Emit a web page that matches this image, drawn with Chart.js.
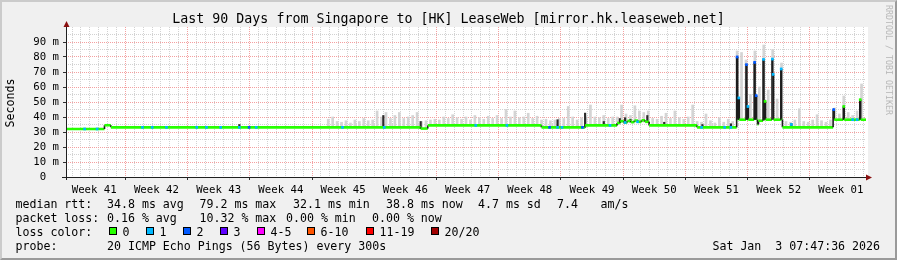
<!DOCTYPE html>
<html><head><meta charset="utf-8">
<script src="https://cdn.jsdelivr.net/npm/chart.js@4.4.1/dist/chart.umd.min.js"></script>
<style>
html,body{margin:0;padding:0;}
body{width:897px;height:260px;position:relative;overflow:hidden;background:#f0f0f0;font-family:"DejaVu Sans Mono",monospace;color:#000;}
#frame{position:absolute;left:0;top:0;width:897px;height:260px;box-sizing:border-box;border-top:2px solid #cbcbcb;border-left:2px solid #cbcbcb;border-right:2px solid #9a9a9a;border-bottom:2px solid #9a9a9a;}
canvas{position:absolute;left:0;top:0;}
.t{position:absolute;white-space:pre;font-size:11.6px;line-height:14px;}
#title{position:absolute;left:0;width:897px;text-align:center;top:11px;font-size:13.3px;line-height:16px;white-space:pre;}
#ylab{position:absolute;left:-20px;top:95.5px;width:60px;height:14px;line-height:14px;text-align:center;font-size:11.6px;transform:rotate(-90deg);white-space:pre;}
#wm{position:absolute;left:834px;top:55px;width:110px;height:10px;line-height:10px;text-align:center;font-size:8.3px;color:#b8b8b8;transform:rotate(90deg);white-space:pre;}
.box{position:absolute;width:6px;height:6px;border:1px solid #000;top:227px;}
</style>
</head><body>
<div id="frame"></div>
<canvas id="c" width="897" height="260"></canvas>
<div id="title">Last 90 Days from Singapore to [HK] LeaseWeb [mirror.hk.leaseweb.net]</div>
<div id="ylab">Seconds</div>
<div id="wm">RRDTOOL / TOBI OETIKER</div>
<div class="t" style="left:15.5px;top:197px">median rtt:</div>
<div class="t" style="left:107px;top:197px">34.8 ms avg</div>
<div class="t" style="left:199.5px;top:197px">79.2 ms max</div>
<div class="t" style="left:293px;top:197px">32.1 ms min</div>
<div class="t" style="left:386px;top:197px">38.8 ms now</div>
<div class="t" style="left:478px;top:197px">4.7 ms sd</div>
<div class="t" style="left:557px;top:197px">7.4</div>
<div class="t" style="left:600.5px;top:197px">am/s</div>
<div class="t" style="left:15.5px;top:211px">packet loss:</div>
<div class="t" style="left:107px;top:211px">0.16 % avg</div>
<div class="t" style="left:199.5px;top:211px">10.32 % max</div>
<div class="t" style="left:286px;top:211px">0.00 % min</div>
<div class="t" style="left:372px;top:211px">0.00 % now</div>
<div class="t" style="left:15.5px;top:225px">loss color:</div>
<div id="lossLegend"></div>
<div class="t" style="left:15.5px;top:239px">probe:</div>
<div class="t" style="left:107px;top:239px">20 ICMP Echo Pings (56 Bytes) every 300s</div>
<div class="t" style="right:17px;top:239px">Sat Jan  3 07:47:36 2026</div>
<script>
// ---------- data ----------
const weekLabels = ['Week 41','Week 42','Week 43','Week 44','Week 45','Week 46','Week 47','Week 48','Week 49','Week 50','Week 51','Week 52','Week 01'];
const lossLabels = ['0','1','2','3','4-5','6-10','11-19','20/20'];
const lossColors = ['#26ff00','#00b8ff','#0059ff','#5e00ff','#ff00ff','#ff5500','#ff0000','#a00000'];

// median rtt runs (days since start, ms, loss class)
const runStart = [0,4.33,5.05,39.9,40.7,53.5,58.4,62.0,62.35,62.75,63.15,63.55,63.95,64.35,64.75,65.15,65.6,71.0,
  75.45,75.56,75.64,75.74,76.5,76.6,76.68,76.76,77.42,77.52,77.6,77.7,77.8,77.9,78.42,78.52,78.6,78.7,79.43,79.5,79.6,80.42,80.5,
  80.6,86.3,86.42,87.45,87.55,89.3,89.4];
const runEnd = [4.33,5.05,39.9,40.7,53.5,58.4,62.0,62.35,62.75,63.15,63.55,63.95,64.35,64.75,65.15,65.6,71.0,75.45,
  75.56,75.64,75.74,76.5,76.6,76.68,76.76,77.42,77.52,77.6,77.7,77.8,77.9,78.42,78.52,78.6,78.7,79.43,79.5,79.6,80.42,80.5,80.6,
  86.3,86.42,87.45,87.55,89.3,89.4,90];
const runMs = [32.0,34.5,33.1,32.3,34.4,33.1,34.4,36.0,37.2,36.3,37.4,36.6,37.6,36.8,37.8,36.8,34.4,33.1,
  80.0,38.2,52.7,38.2,74.9,38.2,47.0,38.2,76.4,38.2,54.2,38.2,35.0,37.5,78.4,38.2,50.4,38.2,78.6,68.4,38.2,72.0,38.2,
  33.1,44.9,38.2,47.0,38.2,51.5,38.2];
const runLoss = [0,0,0,0,0,0,0,0,0,0,0,0,0,0,0,0,0,0,
  2,0,1,0,2,0,1,0,2,0,2,0,0,0,1,0,0,0,1,1,0,1,0,
  0,2,0,0,0,0,0];

// light smoke (min..max of pings)
const smokeDays = [29.5,30,30.5,31,31.5,32,32.5,33,33.5,34,34.5,35,35.5,36,36.5,37,37.5,38,38.5,39,39.5,
  40,40.5,
  41,41.5,42,42.5,43,43.5,44,44.5,45,45.5,46,46.5,47,47.5,48,48.5,49,49.5,50,50.5,51,51.5,52,52.5,53,
  53.5,54,54.5,55,55.5,56,56.5,57,57.5,58,
  58.5,59,59.5,60,60.5,61,61.5,
  62,62.5,63,63.5,64,64.5,65,65.5,
  66,66.5,67,67.5,68,68.5,69,69.5,70,70.5,
  71,71.5,72,72.5,73,73.5,74,74.5,75,
  75.5,76,76.5,77,77.5,78,78.5,79,79.5,80,80.5,
  81,81.5,82,82.5,83,83.5,84,84.5,85,85.5,86,
  86.5,87,87.5,88,88.5,89,89.5];
const smokeLow = [33.1,33.1,33.1,33.1,33.1,33.1,33.1,33.1,33.1,33.1,33.1,33.1,33.1,33.1,33.1,33.1,33.1,33.1,33.1,33.1,33.1,
  32.3,32.3,
  34.4,34.4,34.4,34.4,34.4,34.4,34.4,34.4,34.4,34.4,34.4,34.4,34.4,34.4,34.4,34.4,34.4,34.4,34.4,34.4,34.4,34.4,34.4,34.4,34.4,
  33.1,33.1,33.1,33.1,33.1,33.1,33.1,33.1,33.1,33.1,
  34.4,34.4,34.4,34.4,34.4,34.4,34.4,
  36.5,36.5,36.5,36.5,36.5,36.5,36.5,36.5,
  34.4,34.4,34.4,34.4,34.4,34.4,34.4,34.4,34.4,34.4,
  33.1,33.1,33.1,33.1,33.1,33.1,33.1,33.1,33.1,
  38.2,38.2,38.2,38.2,38.2,38.2,38.2,38.2,38.2,38.2,38.2,
  33.1,33.1,33.1,33.1,33.1,33.1,33.1,33.1,33.1,33.1,33.1,
  38.2,38.2,38.2,38.2,38.2,38.2,38.2];
const smokeHigh = [38.5,40,37,36.5,37.5,36,38,37,39,37.5,38,44,40,43,39,41,43,39,40,41,43,
  37,37.5,
  38,38.5,38,40,39,41.5,39.5,38.5,40,38,41,39.5,38.5,40.5,39,41,39,45,40,44,39.5,40,42.5,39,40.5,
  38,38.5,37.5,38,39,39,47,40,38,39.5,
  40,48,40,39.5,41,39,40,
  40,48,42,41,47.5,44,43,44,
  39,38.5,40.5,42.5,39,44,39.5,38.5,40,48,
  37,36.5,42,37.5,36,39.5,36.5,38.5,37,
  84,83,78,55,84,60,88,58,85,52,76,
  37,36.5,38,45.5,37,36.5,38,41.5,37.5,36.5,38,
  46,42,54,43,41,44,62];

// dense (dark) smoke columns
const darkDays = [19.5,35.7,39.9,55.3,58.4,60.5,62.3,62.9,63.5,65.4,67.3,71.6,74.8,81.6];
const darkLow  = [33.1,33.1,32.3,33.1,33.1,34.4,36.0,36.3,36.6,36.8,34.4,33.1,33.1,33.1];
const darkHigh = [35.0,41.0,37.0,38.2,42.6,37.0,39.0,39.5,38.5,41.0,36.5,35.0,35.5,35.5];

// single pings lost: median spots coloured by loss
const lossDays = [2.1,3.5,8.6,9.7,11.3,14.7,15.8,17.4,19.5,20.6,21.4,31.1,35.8,46.1,49.6,54.4,55.3,55.8,58.1,61.2,62.9,64.3,71.5,74.1,74.8,81.6,88.5,89.0,
  75.5,75.69,76.55,76.72,77.47,77.65,78.47,78.65,79.47,79.55,80.46,86.36,87.5,89.35];
const lossMs = [32.0,32.0,33.1,33.1,33.1,33.1,33.1,33.1,33.1,33.1,33.1,33.1,33.1,34.4,34.4,33.1,33.1,33.1,33.1,34.4,36.3,36.8,33.1,33.1,33.1,35.0,38.2,38.2,
  80.0,52.7,74.9,47.0,76.4,54.2,78.4,50.4,78.6,68.4,72.0,44.9,47.0,51.5];
const lossClass = [1,1,1,1,1,1,1,1,1,2,1,1,1,1,1,2,1,1,2,1,1,1,1,1,1,1,1,1,
  2,1,2,1,2,2,1,0,1,1,1,2,0,0];

// ---------- build ----------
const medPts = [], medLoss = [];
runStart.forEach((s, i) => {
  medPts.push({x: s, y: runMs[i]}, {x: runEnd[i], y: runMs[i]});
  medLoss.push(runLoss[i], runLoss[i]);
});
const smokeData = smokeDays.map((d, i) => ({x: d, y: [smokeLow[i], smokeHigh[i]]}));
const darkData = darkDays.map((d, i) => ({x: d, y: [darkLow[i], darkHigh[i]]}));
const lossData = lossDays.map((d, i) => ({x: d, y: lossMs[i]}));

// loss colour legend
const legendX = [108.5,145.5,182.5,219.5,256.5,306.5,365.5,430.5];
const lg = document.getElementById('lossLegend');
lossLabels.forEach((lab, i) => {
  const b = document.createElement('div'); b.className = 'box';
  b.style.left = legendX[i] + 'px'; b.style.background = lossColors[i]; lg.appendChild(b);
  const t = document.createElement('div'); t.className = 't';
  t.style.left = (legendX[i] + 14) + 'px'; t.style.top = '225px'; t.textContent = lab; lg.appendChild(t);
});

// grid positions: days start at 0.675 (midnight), weeks start on day index 6
const dayTicks = []; for (let k = 0; k < 90; k++) dayTicks.push(0.675 + k);
const isMajorDay = v => Math.abs(((v - 6.675) % 7 + 7) % 7) < 0.01;
const weekMid = weekLabels.map((l, i) => 3.175 + 7 * i);
const yTicks = []; for (let v = 0; v <= 100; v += 5) yTicks.push(v);

const MINOR = '#d2d2d2', MAJOR = '#f4a0a0', CLEAR = 'rgba(0,0,0,0)';
const FONT = "'DejaVu Sans Mono', monospace";
const isVertical = c => Math.abs(c.p1.x - c.p0.x) < 0.3;

const plotBg = {
  id: 'plotBg',
  beforeDraw(chart) {
    const {ctx, chartArea: a} = chart;
    ctx.save(); ctx.fillStyle = '#ffffff';
    ctx.fillRect(a.left, a.top, a.right - a.left + 2, a.bottom - a.top);
    ctx.restore();
  },
  afterDraw(chart) {
    const {ctx, chartArea: a} = chart;
    ctx.save();
    ctx.strokeStyle = '#202020'; ctx.lineWidth = 1;
    ctx.beginPath();
    ctx.moveTo(a.left + 0.5, a.bottom + 3); ctx.lineTo(a.left + 0.5, a.top - 3);
    ctx.moveTo(a.left - 4, a.bottom + 0.5); ctx.lineTo(a.right + 2, a.bottom + 0.5);
    ctx.stroke();
    ctx.fillStyle = '#8a1010';
    ctx.beginPath();
    ctx.moveTo(a.left + 0.5, a.top - 6); ctx.lineTo(a.left - 2.5, a.top); ctx.lineTo(a.left + 3.5, a.top); ctx.closePath();
    ctx.fill();
    ctx.beginPath();
    ctx.moveTo(a.right + 6, a.bottom + 0.5); ctx.lineTo(a.right, a.bottom - 2.5); ctx.lineTo(a.right, a.bottom + 3.5); ctx.closePath();
    ctx.fill();
    ctx.restore();
  }
};

new Chart(document.getElementById('c'), {
  type: 'bar',
  data: {
    datasets: [
      {type: 'bar', data: smokeData, backgroundColor: '#d4d4d4', borderWidth: 0, barThickness: 2, grouped: false, order: 4},
      {type: 'bar', data: darkData, backgroundColor: '#2a2a2a', borderWidth: 0, barThickness: 1.5, grouped: false, order: 3},
      {type: 'line', data: medPts, borderWidth: 2.6, pointRadius: 0, tension: 0, fill: false, order: 2,
        borderColor: lossColors[0],
        segment: {
          borderColor: c => (isVertical(c) ? '#1c1c1c' : lossColors[medLoss[c.p0DataIndex]]),
          borderWidth: c => (isVertical(c) ? 1.6 : 2.6)
        }},
      {type: 'scatter', data: lossData, pointStyle: 'rect', pointRadius: 1.9, pointBorderWidth: 0,
        pointBackgroundColor: lossClass.map(c => lossColors[c]), order: 1}
    ]
  },
  options: {
    responsive: false, animation: false, devicePixelRatio: 1,
    layout: {padding: {left: 0, right: 31, top: 27, bottom: 0}},
    plugins: {legend: {display: false}, tooltip: {enabled: false}},
    scales: {
      x: {
        type: 'linear', min: 0, max: 90, offset: false, position: 'bottom', weight: 0,
        afterBuildTicks: s => { s.ticks = dayTicks.map(v => ({value: v})); },
        afterFit: s => { s.height = 4; },
        grid: {offset: false, lineWidth: 1, drawTicks: true, tickLength: 3,
          color: c => (c.tick && isMajorDay(c.tick.value) ? MAJOR : MINOR),
          tickColor: c => (c.tick && isMajorDay(c.tick.value) ? '#303030' : CLEAR)},
        border: {display: false, dash: [1, 1]},
        ticks: {display: false}
      },
      x2: {
        type: 'linear', min: 0, max: 90, offset: false, position: 'bottom', weight: 1,
        afterBuildTicks: s => { s.ticks = weekMid.map(v => ({value: v})); },
        afterFit: s => { s.height = 79; },
        grid: {display: false, drawTicks: false, offset: false},
        border: {display: false},
        ticks: {autoSkip: false, maxRotation: 0, minRotation: 0, padding: 2.5, color: '#000',
          font: {family: FONT, size: 10.7}, callback: (v, i) => weekLabels[i]}
      },
      y: {
        type: 'linear', min: 0, max: 100, position: 'left',
        afterBuildTicks: s => { s.ticks = yTicks.map(v => ({value: v})); },
        afterFit: s => { s.width = 66; },
        grid: {lineWidth: 1, drawTicks: true, tickLength: 3,
          color: c => { const v = c.tick ? c.tick.value : 0; return (v === 0 || v === 100) ? CLEAR : (v % 10 === 0 ? MAJOR : MINOR); },
          tickColor: c => { const v = c.tick ? c.tick.value : 0; return (v % 10 === 0 && v < 100) ? '#303030' : CLEAR; }},
        border: {display: false, dash: [1, 1]},
        ticks: {padding: 4, color: '#000', autoSkip: false, font: {family: FONT, size: 10.7},
          callback: v => (v % 10 === 0 && v < 100) ? (v === 0 ? '0  ' : v + ' m') : ''}
      }
    }
  },
  plugins: [plotBg]
});
</script>
</body></html>
